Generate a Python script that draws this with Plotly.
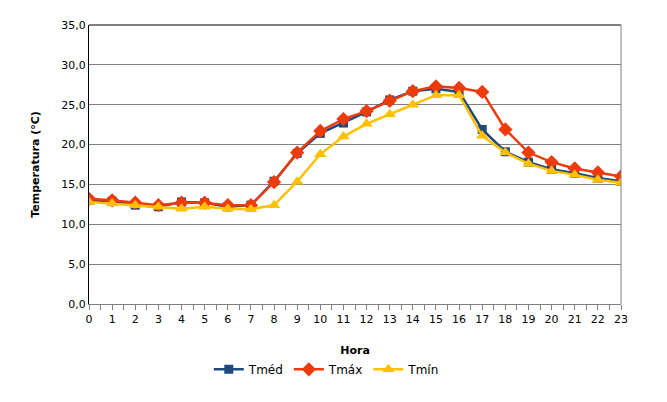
import plotly.graph_objects as go

# dados
horas = list(range(24))
t_med = [13.0, 12.9, 12.4, 12.2, 12.8, 12.7, 12.2, 12.4, 15.4, 18.9, 21.4, 22.7,
         24.1, 25.6, 26.7, 27.0, 26.6, 21.9, 19.1, 17.8, 16.9, 16.4, 15.8, 15.4]
t_max = [13.2, 13.0, 12.7, 12.4, 12.7, 12.7, 12.4, 12.4, 15.3, 19.0, 21.7, 23.2,
         24.2, 25.5, 26.7, 27.3, 27.1, 26.6, 21.9, 19.0, 17.8, 17.0, 16.5, 16.0]
t_min = [12.8, 12.6, 12.4, 12.2, 11.95, 12.2, 11.95, 11.9, 12.4, 15.35, 18.8, 21.0,
         22.6, 23.8, 25.0, 26.2, 26.2, 21.1, 19.0, 17.6, 16.7, 16.2, 15.6, 15.2]

series = [
    ("Tméd", t_med, "#1F497D", "square", 9),
    ("Tmáx", t_max, "#EE3B0C", "diamond", 11),
    ("Tmín", t_min, "#FFC000", "triangle-up", 11),
]

fig = go.Figure()
for nome, vals, cor, simb, tam in series:
    fig.add_trace(
        go.Scatter(
            x=horas,
            y=vals,
            name=nome,
            mode="lines+markers",
            line={"color": cor, "width": 2.5},
            marker={"symbol": simb, "size": tam, "color": cor},
        )
    )

# margens descontam os 8px de margem do body da página
fig.update_layout(
    width=667,
    height=402,
    paper_bgcolor="white",
    plot_bgcolor="white",
    separators=", ",
    font={"family": "DejaVu Sans", "size": 11, "color": "black"},
    margin={"l": 81, "r": 54, "t": 11, "b": 106},
    showlegend=True,
    legend={
        "orientation": "h",
        "x": 0.447,
        "xanchor": "center",
        "y": -0.182,
        "yanchor": "top",
        "font": {"size": 12},
    },
    xaxis={
        "range": [0, 23],
        "tickmode": "array",
        "tickvals": horas,
        "ticktext": [str(h) for h in horas],
        "ticks": "outside",
        "ticklen": 5,
        "tickcolor": "#808080",
        "showline": True,
        "linecolor": "#808080",
        "showgrid": False,
        "zeroline": False,
        "minor": {"dtick": 0.5, "ticks": "outside", "ticklen": 5, "tickcolor": "#808080"},
        "title": {"text": "<b>Hora</b>", "standoff": 21, "font": {"size": 11}},
    },
    yaxis={
        "range": [0, 35],
        "dtick": 5,
        "tickformat": ".1f",
        "showline": True,
        "linecolor": "black",
        "gridcolor": "#808080",
        "zeroline": False,
        "ticks": "",
        "title": {"text": "<b>Temperatura (°C)</b>", "standoff": 19, "font": {"size": 11}},
    },
    shapes=[
        {"type": "line", "xref": "paper", "yref": "paper", "x0": 0, "x1": 1, "y0": 1, "y1": 1,
         "line": {"color": "black", "width": 1}},
        {"type": "line", "xref": "paper", "yref": "paper", "x0": 1, "x1": 1, "y0": 0, "y1": 1,
         "line": {"color": "#808080", "width": 1}},
    ],
)

fig.write_html("out.html")
